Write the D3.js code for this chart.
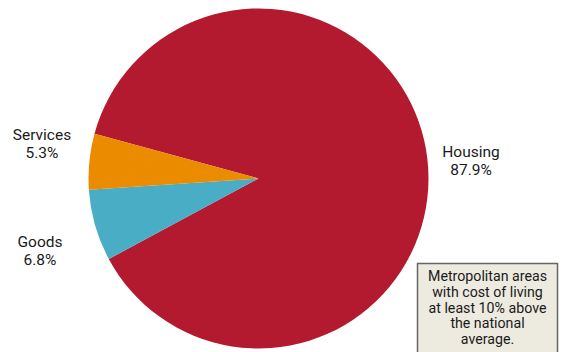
<!DOCTYPE html>
<html><head><meta charset="utf-8">
<script src="https://cdn.jsdelivr.net/npm/d3@7"></script>
<style>body{margin:0;background:#fff}svg{display:block;font-family:Roboto,sans-serif}</style>
</head><body><svg id="c" width="563" height="352"></svg>
<script>
const categories = ["Housing", "Goods", "Services"];
const values = [87.9, 6.8, 5.3];
const colors = ["#B31A2F", "#4AADC6", "#EB8B00"];
const labelPos = [[471, 157], [40, 247], [42, 140]];
const noteLines = ["Metropolitan areas", "with cost of living", "at least 10% above", "the national", "average."];

const svg = d3.select("#c");
const cx = 258.5, cy = 178.5, r = 170;
const start = -74.7 * Math.PI / 180;
const pie = d3.pie().sort(null).startAngle(start).endAngle(start + 2 * Math.PI);
const arc = d3.arc().innerRadius(0).outerRadius(r);
const data = categories.map((c, i) => ({ c, v: values[i], col: colors[i] }));
const g = svg.append("g").attr("transform", `translate(${cx},${cy})`);
g.selectAll("path").data(pie.value(d => d.v)(data)).join("path")
  .attr("d", arc).attr("fill", d => d.data.col);

data.forEach((d, i) => {
  const t = svg.append("text").attr("text-anchor", "middle").attr("font-size", 15.5).attr("fill", "#1a1a1a");
  t.append("tspan").attr("x", labelPos[i][0]).attr("y", labelPos[i][1]).text(d.c);
  t.append("tspan").attr("x", labelPos[i][0]).attr("y", labelPos[i][1] + 18).text(d.v.toFixed(1) + "%");
});

svg.append("rect").attr("x", 417.5).attr("y", 263.5).attr("width", 140).attr("height", 100)
  .attr("fill", "#EDEBE0").attr("stroke", "#666").attr("stroke-width", 1.5);
const nt = svg.append("text").attr("text-anchor", "middle").attr("font-size", 14.2).attr("fill", "#1a1a1a");
noteLines.forEach((l, i) => nt.append("tspan").attr("x", 487.5).attr("y", 281 + i * 15.8).text(l));
</script></body></html>
